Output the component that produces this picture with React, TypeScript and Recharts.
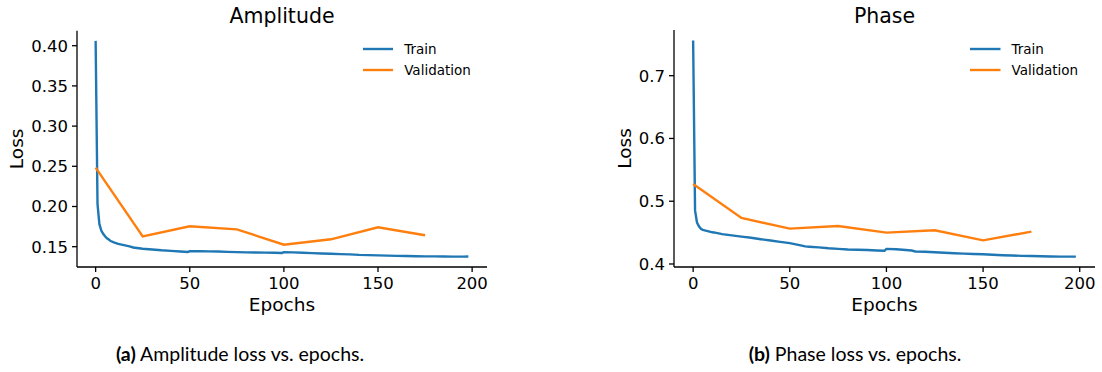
import React from 'react';
import { LineChart, Line, XAxis, YAxis, Legend } from 'recharts';

const FONT = '"DejaVu Sans", sans-serif';
const BLUE = '#1f77b4';
const ORANGE = '#ff7f0e';

// ---- data ----
const xTicks = [0, 50, 100, 150, 200];
const ampYTicks = [0.15, 0.2, 0.25, 0.3, 0.35, 0.4];
const phaseYTicks = [0.4, 0.5, 0.6, 0.7];

const valEpochs = [0, 25, 50, 75, 100, 125, 150, 175];
const ampValLoss = [0.2483, 0.1629, 0.1754, 0.1716, 0.1525, 0.1592, 0.1741, 0.1642];
const phaseValLoss = [0.5275, 0.4733, 0.4563, 0.4605, 0.4499, 0.4537, 0.4377, 0.4515];

const ampTrainEpochs = [0, 1, 2, 3, 4, 5, 6, 7, 8, 10, 12, 15, 18, 20, 25, 30, 35, 40, 45, 49, 50, 55, 60, 65, 70, 75, 80, 85, 90, 95, 99, 100, 105, 110, 115, 120, 125, 130, 135, 140, 145, 150, 155, 160, 165, 170, 175, 180, 185, 190, 195, 198];
const ampTrainLoss = [0.406, 0.203, 0.178, 0.170, 0.166, 0.163, 0.1605, 0.159, 0.157, 0.155, 0.1535, 0.152, 0.1505, 0.149, 0.1475, 0.1466, 0.1455, 0.1448, 0.144, 0.1435, 0.1445, 0.1443, 0.1442, 0.144, 0.1436, 0.1432, 0.143, 0.1428, 0.1426, 0.1424, 0.1422, 0.1432, 0.143, 0.1425, 0.142, 0.1416, 0.1412, 0.1408, 0.1404, 0.1398, 0.1395, 0.1392, 0.1389, 0.1386, 0.1384, 0.1382, 0.138, 0.138, 0.1378, 0.1377, 0.1376, 0.1378];

const phaseTrainEpochs = [0, 1, 2, 3, 4, 5, 6, 8, 10, 12, 15, 20, 25, 30, 35, 40, 45, 50, 55, 58, 60, 65, 70, 75, 80, 85, 90, 95, 99, 100, 105, 110, 113, 115, 120, 125, 130, 135, 140, 145, 150, 155, 160, 165, 170, 175, 180, 185, 190, 195, 198];
const phaseTrainLoss = [0.756, 0.485, 0.466, 0.46, 0.456, 0.4545, 0.4535, 0.452, 0.4505, 0.4495, 0.4475, 0.4455, 0.4435, 0.4418, 0.4395, 0.4375, 0.4352, 0.4332, 0.43, 0.428, 0.4275, 0.4265, 0.425, 0.424, 0.4232, 0.4228, 0.4222, 0.4215, 0.421, 0.424, 0.4235, 0.4222, 0.4215, 0.42, 0.4195, 0.4188, 0.418, 0.4172, 0.4165, 0.416, 0.4155, 0.4148, 0.414, 0.4135, 0.413, 0.4127, 0.4123, 0.412, 0.4118, 0.4117, 0.4117];

const toPoints = (xs: number[], ys: number[]) => xs.map((x, i) => ({ epoch: x, loss: ys[i] }));

type PanelProps = {
  left: number;
  margin: { top: number; right: number; bottom: number; left: number };
  yDomain: [number, number];
  yTicks: number[];
  yDigits: number;
  train: { epoch: number; loss: number }[];
  val: { epoch: number; loss: number }[];
  lossX: number;
  legendLeft: number;
};

const W = 551;
const H = 330;

const LegendBox = (props: any) => {
  const items = (props && props.payload && props.payload.length)
    ? props.payload.map((p: any) => ({ name: p.value, color: p.color }))
    : [{ name: 'Train', color: BLUE }, { name: 'Validation', color: ORANGE }];
  return (
    <div style={{ fontFamily: FONT, fontSize: 13.5, color: '#000' }}>
      {items.map((it: any) => (
        <div key={it.name} style={{ display: 'flex', alignItems: 'center', height: 21, whiteSpace: 'nowrap' }}>
          <svg width={30.5} height={4} style={{ display: 'block' }}>
            <line x1={0} x2={30.5} y1={2} y2={2} stroke={it.color} strokeWidth={2.4} />
          </svg>
          <span style={{ marginLeft: 11, lineHeight: '21px' }}>{it.name}</span>
        </div>
      ))}
    </div>
  );
};

function Panel(p: PanelProps) {
  const axisStyle = { stroke: '#000', strokeWidth: 1.3 };
  const tickStyle = { fill: '#000', fontSize: 16.5, fontFamily: FONT };
  return (
    <div style={{ position: 'absolute', left: p.left, top: 0, width: W, height: H }}>
      <LineChart width={W} height={H} margin={p.margin}>
        <XAxis
          dataKey="epoch"
          type="number"
          domain={[-9.9, 207.9]}
          ticks={xTicks}
          allowDataOverflow
          interval={0}
          height={50}
          axisLine={axisStyle}
          tickLine={axisStyle}
          tickSize={5}
          tickMargin={5}
          tick={tickStyle}
          label={{
            content: (lp: any) => {
              const vb = lp.viewBox || {};
              const cx = (vb.x ?? 0) + (vb.width ?? 0) / 2;
              const y = (vb.y ?? 267) + 44;
              return (
                <text x={cx} y={y} textAnchor="middle" fontFamily={FONT} fontSize={18.5} fill="#000">Epochs</text>
              );
            },
          }}
        />
        <YAxis
          type="number"
          domain={p.yDomain}
          ticks={p.yTicks}
          allowDataOverflow
          interval={0}
          width={60}
          axisLine={axisStyle}
          tickLine={axisStyle}
          tickSize={5}
          tickMargin={4}
          tick={tickStyle}
          tickFormatter={(v: number) => v.toFixed(p.yDigits)}
          label={{
            content: (lp: any) => {
              const vb = lp.viewBox || {};
              const cy = (vb.y ?? 0) + (vb.height ?? 0) / 2;
              return (
                <text x={p.lossX} y={cy} transform={`rotate(-90, ${p.lossX}, ${cy})`} textAnchor="middle" fontFamily={FONT} fontSize={18.5} fill="#000">Loss</text>
              );
            },
          }}
        />
        <Legend
          layout="horizontal"
          verticalAlign="middle"
          align="center"
          content={LegendBox}
          wrapperStyle={{ left: p.legendLeft, top: 38.8, width: 'auto', height: 'auto' }}
        />
        <Line data={p.train} dataKey="loss" name="Train" stroke={BLUE} strokeWidth={2.4} dot={false} activeDot={false} isAnimationActive={false} />
        <Line data={p.val} dataKey="loss" name="Validation" stroke={ORANGE} strokeWidth={2.4} dot={false} activeDot={false} isAnimationActive={false} />
      </LineChart>
    </div>
  );
}

export default function App() {
  return (
    <div style={{ position: 'absolute', left: 0, top: 0, width: 1102, height: 372, background: '#fff', overflow: 'hidden' }}>
      <Panel
        left={0}
        margin={{ top: 30.7, right: 64, bottom: 13, left: 17 }}
        yDomain={[0.12475, 0.41866]}
        yTicks={ampYTicks}
        yDigits={2}
        train={toPoints(ampTrainEpochs, ampTrainLoss)}
        val={toPoints(valEpochs, ampValLoss)}
        lossX={23}
        legendLeft={362.7}
      />
      <Panel
        left={551}
        margin={{ top: 30, right: 7, bottom: 13, left: 63 }}
        yDomain={[0.3952, 0.7728]}
        yTicks={phaseYTicks}
        yDigits={1}
        train={toPoints(phaseTrainEpochs, phaseTrainLoss)}
        val={toPoints(valEpochs, phaseValLoss)}
        lossX={79.5}
        legendLeft={419}
      />
      <svg width={1102} height={372} style={{ position: 'absolute', left: 0, top: 0, pointerEvents: 'none' }}>
        <text x={282} y={23.3} textAnchor="middle" fontFamily={FONT} fontSize={20.5} fill="#000">Amplitude</text>
        <text x={884.5} y={23.3} textAnchor="middle" fontFamily={FONT} fontSize={20.5} fill="#000">Phase</text>
        <text x={240} y={361} textAnchor="middle" fontFamily="Lato, sans-serif" fontSize={19.5} fill="#000">
          <tspan fontWeight={700}>(a)</tspan> Amplitude loss vs. epochs.
        </text>
        <text x={855} y={361} textAnchor="middle" fontFamily="Lato, sans-serif" fontSize={19.5} fill="#000">
          <tspan fontWeight={700}>(b)</tspan> Phase loss vs. epochs.
        </text>
      </svg>
    </div>
  );
}
